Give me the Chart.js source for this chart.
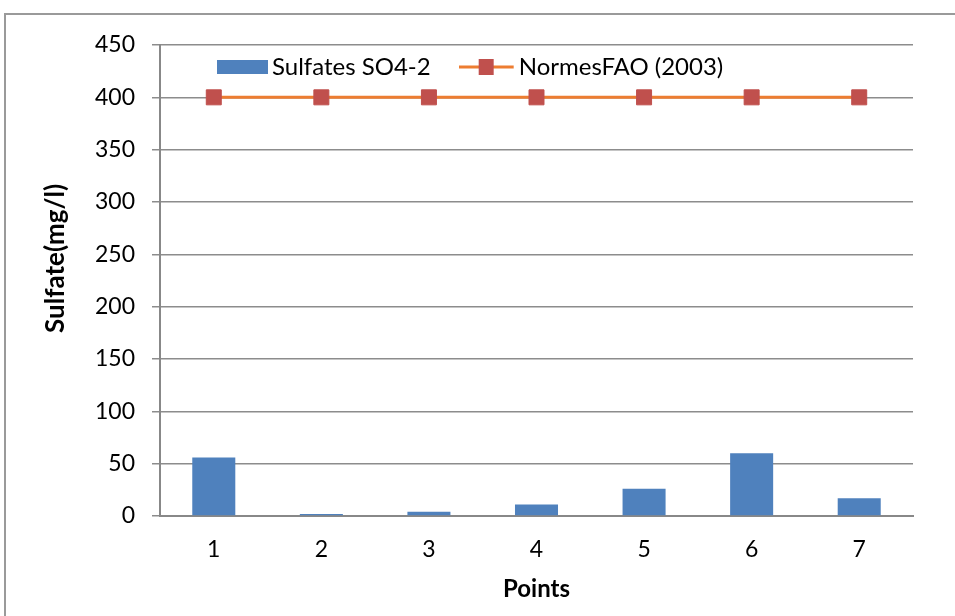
<!DOCTYPE html>
<html>
<head>
<meta charset="utf-8">
<title>Sulfate</title>
<script src="https://cdn.jsdelivr.net/npm/chart.js@4/dist/chart.umd.min.js"></script>
<style>
    html, body { margin: 0; padding: 0; background: #fff; }
    #wrap { position: relative; width: 955px; height: 616px; overflow: hidden; }
    #frame {
        position: absolute; left: 4px; top: 13px; width: 960px; height: 620px;
        border-left: 2px solid #9a9a9a; border-top: 2px solid #9a9a9a;
        pointer-events: none;
    }
</style>
</head>
<body>
<div id="wrap">
    <canvas id="chart" width="955" height="616"></canvas>
    <div id="frame"></div>
</div>
<script>
// data
var categories = ['1', '2', '3', '4', '5', '6', '7'];
var sulfates = [56, 2, 4, 11, 26, 60, 17];
var normeFAO = [400, 400, 400, 400, 400, 400, 400];
var seriesNames = ['Sulfates SO4-2', 'NormesFAO (2003)'];
var yTicks = [0, 50, 100, 150, 200, 250, 300, 350, 400, 450];

var FONT = 'Lato, "Open Sans", sans-serif';
var BLUE = '#4F81BD';
var ORANGE = '#ED7D31';
var RED = '#C0504D';

// legend swatches
function barSwatch() {
    var c = document.createElement('canvas');
    c.width = 51; c.height = 14;
    var ctx = c.getContext('2d');
    ctx.fillStyle = BLUE;
    ctx.fillRect(0, 0, 51, 14);
    return c;
}
function lineSwatch() {
    var c = document.createElement('canvas');
    c.width = 61; c.height = 16;
    var ctx = c.getContext('2d');
    ctx.strokeStyle = ORANGE;
    ctx.lineWidth = 3;
    ctx.beginPath();
    ctx.moveTo(0, 8); ctx.lineTo(55, 8);
    ctx.stroke();
    ctx.fillStyle = RED;
    ctx.fillRect(20, 0, 15, 16);
    return c;
}

// legend sits inside the plot area, like Excel does it
var LEGEND_X = 225;   // left of first item
var LEGEND_Y = 67;    // text middle
var legendInside = {
    id: 'legendInside',
    beforeLayout: function(chart) {
        var lg = chart.legend;
        if (!lg || lg._patched) return;
        var fit = lg.fit;
        lg.fit = function() {
            fit.call(this);
            this._realHeight = this.height;
            this.height = 0;
        };
        lg._patched = true;
    },
    afterLayout: function(chart) {
        var lg = chart.legend;
        var pad = lg.options.labels.padding;
        var w = lg.right - lg.left;
        var lw = lg.lineWidths[0];
        var left = (2 * LEGEND_X + lw - pad - w) / 2;
        lg.left = left;
        lg.right = left + w;
        var itemH = lg.options.labels.font.size;
        lg.top = LEGEND_Y - pad - itemH / 2;
        lg.bottom = lg.top + lg._realHeight + 40;
    }
};

new Chart(document.getElementById('chart'), {
    data: {
        labels: categories,
        datasets: [{
            type: 'line',
            label: seriesNames[1],
            data: normeFAO,
            borderColor: ORANGE,
            borderWidth: 3,
            pointStyle: 'rect',
            pointRadius: 10.6,
            pointBackgroundColor: RED,
            pointBorderColor: RED,
            pointBorderWidth: 1,
            order: 1
        }, {
            type: 'bar',
            label: seriesNames[0],
            data: sulfates,
            backgroundColor: BLUE,
            barPercentage: 0.4,
            categoryPercentage: 1,
            order: 2
        }]
    },
    plugins: [legendInside],
    options: {
        responsive: false,
        animation: false,
        layout: { padding: { left: 40, top: 45, right: 42, bottom: 0 } },
        plugins: {
            tooltip: { enabled: false },
            legend: {
                position: 'top',
                align: 'center',
                labels: {
                    usePointStyle: true,
                    pointStyleWidth: 35,
                    boxHeight: 14,
                    padding: 41,
                    color: '#000',
                    font: { family: FONT, size: 24 },
                    generateLabels: function(chart) {
                        return [
                            { text: seriesNames[0], pointStyle: barSwatch(), fillStyle: BLUE, strokeStyle: BLUE, lineWidth: 0, datasetIndex: 1 },
                            { text: seriesNames[1], pointStyle: lineSwatch(), fillStyle: RED, strokeStyle: RED, lineWidth: 0, datasetIndex: 0 }
                        ];
                    }
                }
            }
        },
        scales: {
            x: {
                grid: { display: false, drawTicks: false },
                border: { color: '#888', width: 2 },
                ticks: { color: '#000', font: { family: FONT, size: 23 }, padding: 20 },
                title: { display: true, text: 'Points', color: '#000', font: { family: FONT, size: 24, weight: 'bold' }, padding: { top: 0, bottom: 12 } },
                afterFit: function(s) { s.height = 100; }
            },
            y: {
                min: 0,
                max: 450,
                afterBuildTicks: function(s) { s.ticks = yTicks.map(function(v) { return { value: v }; }); },
                grid: { color: '#8c8c8c', lineWidth: 1.5, tickLength: 8 },
                border: { color: '#888', width: 2 },
                ticks: { color: '#000', font: { family: FONT, size: 23 }, padding: 17 },
                title: { display: true, text: '       Sulfate(mg/l)', color: '#000', font: { family: FONT, size: 26, weight: 'bold' }, padding: { top: 0, bottom: 0 } },
                afterFit: function(s) { s.width = 120; }
            }
        }
    }
});
</script>
</body>
</html>
